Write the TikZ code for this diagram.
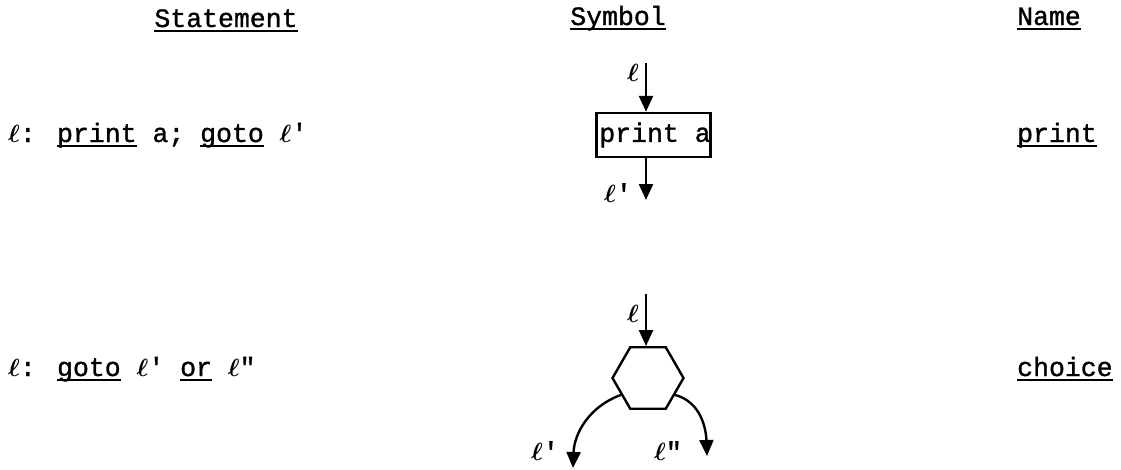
\documentclass[tikz,border=0pt]{standalone}
\usepackage{fontspec}
\setmainfont{Liberation Mono}[FakeBold=1.2]
\newfontfamily\plainmono{Liberation Mono}[FakeBold=1.2]
\usetikzlibrary{arrows.meta,shapes.geometric}
\newcommand\undl[1]{\setbox0\hbox{#1}\rlap{\vrule height -2.5pt depth 4.5pt width \wd0}\box0\relax}
\newcommand\sq{{\plainmono\char"0027}}
\newcommand\dq{{\plainmono\char"0022}}
\newcommand\scl{{\boldmath$\ell$}}
\tikzset{
  txt/.style={inner sep=0pt, font=\fontsize{26.5}{30}\selectfont},
  lbl/.style={inner sep=0pt, font=\fontsize{27}{30}\selectfont},
  arr/.style={line width=2.4pt, -{Triangle[width=14pt,length=16pt]}},
  shp/.style={draw, line width=2.4pt},
}
\begin{document}
\begin{tikzpicture}[x=1pt,y=-1pt]
\useasboundingbox (0,0) rectangle (1121,469);
% headers
\node[txt, anchor=base] (hs) at (226,27) {\undl{Statement}};
\node[txt, anchor=base] (hy) at (618,25) {\undl{Symbol}};
\node[txt, anchor=base west] (hn) at (1017,25) {\undl{Name}};
% row 1
\node[txt, anchor=base west] (s1) at (8,142) {\scl: \undl{print} a; \undl{goto} \scl\sq};
\node[txt, anchor=base west] (n1) at (1017,142) {\undl{print}};
\node[shp, txt, minimum width=109pt, minimum height=44pt, inner xsep=0pt] (box) at (653.5,135) {\hspace*{3pt}print a};
\coordinate (t1) at (646,63);
\coordinate (b1) at (646,200);
\draw[arr] (t1) -- (t1 |- box.north);
\draw[arr] (t1 |- box.south) -- (b1);
\node[lbl] (l1) at (633,73) {\scl};
\node[lbl] (l1p) at (618,193) {\scl\sq};
% row 2
\node[txt, anchor=base west] (s2) at (8,376) {\scl: \undl{goto} \scl\sq{} \undl{or} \scl\dq};
\node[txt, anchor=base west] (n2) at (1017,376) {\undl{choice}};
\node[shp, regular polygon, regular polygon sides=6, minimum size=71pt, inner sep=0pt] (hex) at (648,378) {};
\coordinate (t2) at (646,294);
\draw[arr] (t2) -- (t2 |- hex.north);
\node[lbl] (l2) at (633,314) {\scl};
\coordinate (e1) at (573,468);
\coordinate (e2) at (707,456);
\draw[arr] (hex.212) to[out=200,in=88] (e1);
\draw[arr] (hex.-32) to[out=-15,in=92] (e2);
\node[lbl] (l2a) at (545,451) {\scl\sq};
\node[lbl] (l2b) at (668,451) {\scl\dq};
\end{tikzpicture}
\end{document}
